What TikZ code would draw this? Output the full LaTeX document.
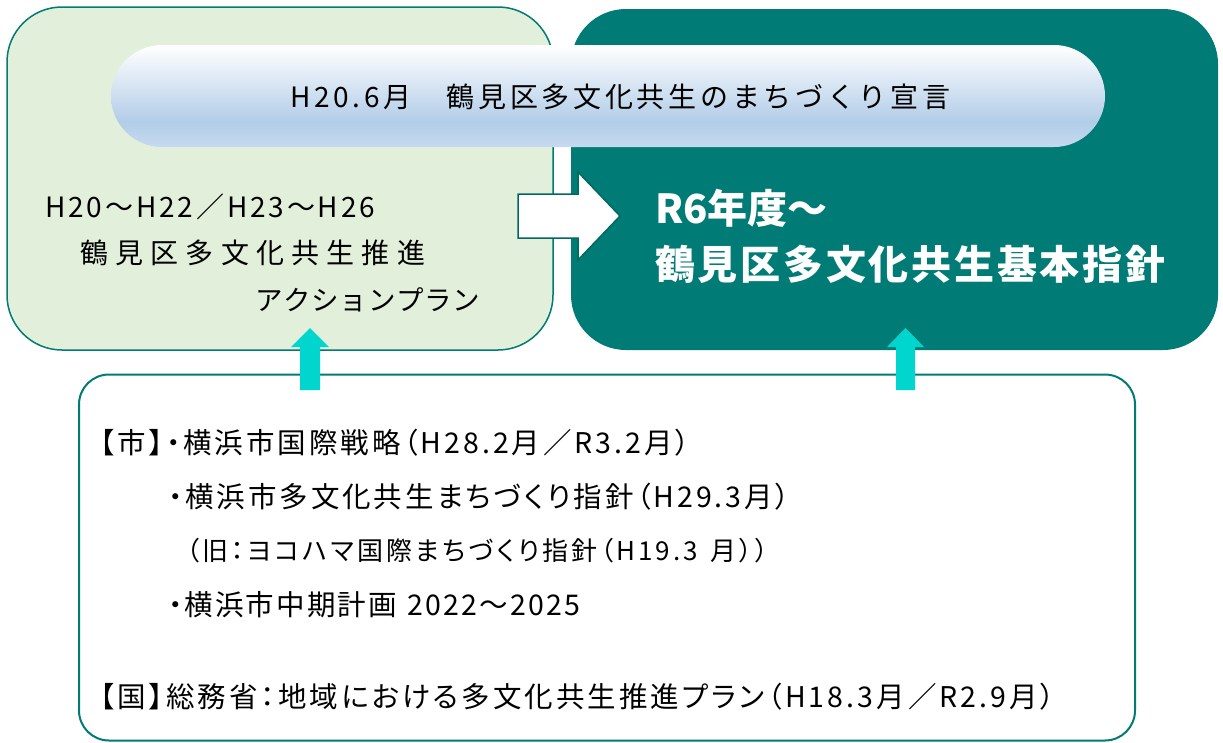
\documentclass[tikz,border=0pt]{standalone}
\usepackage{fontspec}
\setmainfont{Noto Sans CJK JP}
\newfontfamily\jpprop[RawFeature=+palt]{Noto Sans CJK JP}
\definecolor{teal1}{RGB}{0,123,118}
\definecolor{leftfill}{RGB}{226,239,218}
\definecolor{cyanarr}{RGB}{0,214,206}
\definecolor{pillmid}{RGB}{178,205,232}
\definecolor{pillbot}{RGB}{198,218,240}
\definecolor{arrline}{RGB}{0,105,98}
\pgfdeclareverticalshading{pillshade}{100bp}{color(0bp)=(pillbot); color(25bp)=(pillbot); color(37.5bp)=(pillmid); color(75bp)=(white); color(100bp)=(white)}
\makeatletter
\def\spr@ad#1{\ifx#1\relax\else\hfil#1\expandafter\spr@ad\fi}
\def\spr@first#1{#1\spr@ad}
\newcommand\sprd[2]{\makebox[#1][s]{\spr@first#2\relax}}
\makeatother
\newcommand\fsz[1]{\fontsize{#1}{#1}\selectfont}
\begin{document}
\begin{tikzpicture}[x=1pt,y=-1pt,
  panel/.style={rectangle, rounded corners=55pt, inner sep=0pt},
  txt/.style={anchor=west, inner sep=0pt},
  btxt/.style={anchor=west, inner sep=0pt, font=\jpprop\fsz{28.5pt}},
  uparrow/.style={fill=cyanarr, draw=none},
  blockarrow/.style={fill=white, draw=arrline, line width=1.5pt, line join=miter}]
\useasboundingbox (0,0) rectangle (1223,742);
% panels
\node[panel, draw=teal1, line width=1.5pt, fill=leftfill, minimum width=546pt, minimum height=343pt] (left) at (280,178.5) {};
\node[panel, fill=teal1, minimum width=647pt, minimum height=341pt] (right) at (894.5,179.5) {};
\node[panel, rounded corners=30pt, draw=teal1, line width=2pt, fill=white, minimum width=1056pt, minimum height=366pt] (bottom) at (607,557.5) {};
% pill
\node[rectangle, rounded corners=51pt, shading=pillshade, minimum width=994pt, minimum height=102pt, inner sep=0pt] (pill) at (608,96) {};
\node[txt, font=\fsz{28pt}] (pilltext) at (290,97) {\sprd{660pt}{H20.6月　鶴見区多文化共生のまちづくり宣言}};
% left texts
\node[txt, font=\fsz{28pt}] (l1) at (45,207) {\sprd{330pt}{H20～H22／H23～H26}};
\node[txt, font=\fsz{28pt}] (l2) at (80,253) {\sprd{345pt}{鶴見区多文化共生推進}};
\node[txt, font=\fsz{27.5pt}] (l3) at (255,300) {\sprd{225pt}{アクションプラン}};
% right texts
\node[txt, font=\fsz{40pt}\bfseries, text=white] (r1) at (655,208) {\sprd{167pt}{R6年度～}};
\node[txt, font=\fsz{40pt}\bfseries, text=white] (r2) at (655,264) {\sprd{510pt}{鶴見区多文化共生基本指針}};
% block arrow
\draw[blockarrow] (518,194) -- (578,194) -- (578,172) -- (620,216) -- (578,260) -- (578,238) -- (518,238) -- cycle;
% up arrows
\fill[uparrow] (310,328) -- (329,347) -- (320,347) -- (320,390) -- (300,390) -- (300,347) -- (291,347) -- cycle;
\fill[uparrow] (905.5,328) -- (924,347) -- (915,347) -- (915,390) -- (896,390) -- (896,347) -- (887,347) -- cycle;
% bottom texts
\node[btxt] (b1) at (100,443) {\sprd{590pt}{【市】・横浜市国際戦略（H28.2月／R3.2月）}};
\node[btxt] (b2) at (168,497) {\sprd{622pt}{・横浜市多文化共生まちづくり指針（H29.3月）}};
\node[btxt, font=\jpprop\fsz{26pt}] (b3) at (186,551) {\sprd{582pt}{（旧：ヨコハマ国際まちづくり指針（H19.3~月））}};
\node[btxt] (b4) at (168,605) {\sprd{412pt}{・横浜市中期計画~2022～2025}};
\node[btxt] (b5) at (100,697) {\sprd{955pt}{【国】総務省：地域における多文化共生推進プラン（H18.3月／R2.9月）}};
\end{tikzpicture}
\end{document}
